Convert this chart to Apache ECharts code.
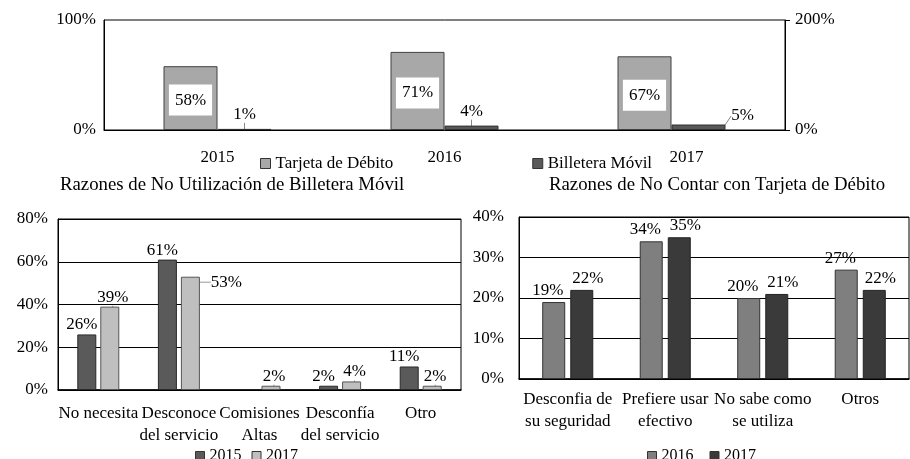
<!DOCTYPE html>
<html lang="es">
<head>
<meta charset="UTF-8">
<title>Billetera Móvil y Tarjeta de Débito</title>
<script src="https://cdn.jsdelivr.net/npm/echarts@6/dist/echarts.min.js"></script>
</head>
<body style="margin:0;background:#fff">
<div id="main" style="width:910px;height:459px"></div>
<script type="text/javascript">
// datos del gráfico superior
var years = ['2015', '2016', '2017'];
var tarjeta = [58, 71, 67];
var billetera = [1, 4, 5];
// razones de no utilización de billetera móvil
var razonesBilletera = ['No necesita', 'Desconoce\ndel servicio', 'Comisiones\nAltas', 'Desconfía\ndel servicio', 'Otro'];
var billetera2015 = [26, 61, null, 2, 11];
var billetera2017 = [39, 53, 2, 4, 2];
// razones de no contar con tarjeta de débito
var razonesTarjeta = ['Desconfia de\nsu seguridad', 'Prefiere usar\nefectivo', 'No sabe como\nse utiliza', 'Otros'];
var tarjeta2016 = [19, 34, 20, 27];
var tarjeta2017 = [22, 35, 21, 22];

var font = 'Liberation Serif';
var txt = { color: '#000', fontFamily: font, fontSize: 17 };
var leg = { color: '#000', fontFamily: font, fontSize: 16 };
var pct = function (p) { return p.value + '%'; };
var tituloStyle = { fontFamily: font, fontWeight: 'normal', fontSize: 18.8, color: '#000' };

// el 2017 de arriba va un poco a la derecha, como en el original
var yearsData = years.map(function (y, i) {
    return i === 2 ? { value: y, textStyle: { padding: [0, 0, 0, 30] } } : y;
});

var myChart = echarts.init(document.getElementById('main'));
var option = {
    animation: false,
    backgroundColor: '#fff',
    textStyle: { fontFamily: font, color: '#000' },
    title: [
        { text: 'Razones de No Utilización de Billetera Móvil', left: 55, top: 171, textStyle: tituloStyle },
        { text: 'Razones de No Contar con Tarjeta de Débito', left: 544, top: 171, textStyle: tituloStyle }
    ],
    legend: [
        { data: ['Tarjeta de Débito', 'Billetera Móvil'], left: 255, top: 150, itemGap: 139, icon: 'rect', itemWidth: 10, itemHeight: 10, itemStyle: { borderColor: '#333', borderWidth: 1 }, textStyle: txt },
        { data: ['a2015', 'a2017'], formatter: function (n) { return n.slice(1); }, left: 190, top: 443, itemGap: 10, icon: 'rect', itemWidth: 9, itemHeight: 9, itemStyle: { borderColor: '#333', borderWidth: 1 }, textStyle: leg },
        { data: ['b2016', 'b2017'], formatter: function (n) { return n.slice(1); }, left: 642, top: 443, itemGap: 16, icon: 'rect', itemWidth: 9, itemHeight: 9, itemStyle: { borderColor: '#333', borderWidth: 1 }, textStyle: leg }
    ],
    grid: [
        { left: 104, width: 681, top: 20, height: 110, show: true, borderColor: '#000', borderWidth: 1 },
        { left: 58, width: 403, top: 219, height: 171, show: true, borderColor: '#000', borderWidth: 1 },
        { left: 519, width: 390, top: 217, height: 162, show: true, borderColor: '#000', borderWidth: 1 }
    ],
    xAxis: [
        { type: 'category', gridIndex: 0, data: yearsData, axisTick: { show: false }, axisLine: { lineStyle: { color: '#000' } }, axisLabel: Object.assign({ margin: 19 }, txt) },
        { type: 'category', gridIndex: 1, data: razonesBilletera, axisTick: { show: false }, axisLine: { lineStyle: { color: '#000', width: 1.5 } }, axisLabel: Object.assign({ margin: 13, lineHeight: 22, interval: 0 }, txt) },
        { type: 'category', gridIndex: 2, data: razonesTarjeta, axisTick: { show: false }, axisLine: { lineStyle: { color: '#000', width: 1.5 } }, axisLabel: Object.assign({ margin: 10, lineHeight: 22, interval: 0 }, txt) }
    ],
    yAxis: [
        { type: 'value', gridIndex: 0, min: 0, max: 100, interval: 100, axisLine: { show: true, lineStyle: { color: '#000' } }, splitLine: { show: false }, axisLabel: Object.assign({ formatter: '{value}%', margin: 8 }, txt) },
        { type: 'value', gridIndex: 0, position: 'right', min: 0, max: 200, interval: 200, axisLine: { show: true, lineStyle: { color: '#000' } }, axisTick: { show: true, length: 5, lineStyle: { color: '#000' } }, splitLine: { show: false }, axisLabel: Object.assign({ formatter: '{value}%', margin: 10 }, txt) },
        { type: 'value', gridIndex: 1, min: 0, max: 80, interval: 20, axisLine: { show: true, lineStyle: { color: '#000' } }, splitLine: { lineStyle: { color: '#000' } }, axisLabel: Object.assign({ formatter: '{value}%', margin: 10 }, txt) },
        { type: 'value', gridIndex: 2, min: 0, max: 40, interval: 10, axisLine: { show: true, lineStyle: { color: '#000' } }, splitLine: { lineStyle: { color: '#000' } }, axisLabel: Object.assign({ formatter: '{value}%', margin: 15 }, txt) }
    ],
    series: [
        {
            name: 'Tarjeta de Débito', type: 'bar', xAxisIndex: 0, yAxisIndex: 0, data: tarjeta,
            barWidth: 54, barGap: '0%',
            itemStyle: { color: '#a8a8a8', borderColor: '#404040', borderWidth: 1 },
            label: Object.assign({ show: true, position: 'inside', formatter: pct, backgroundColor: '#fff', padding: [7, 6] }, txt),
            labelLayout: { dy: 2 }
        },
        {
            name: 'Billetera Móvil', type: 'bar', xAxisIndex: 0, yAxisIndex: 0, data: billetera,
            barWidth: 54, barGap: '0%',
            itemStyle: { color: '#595959', borderColor: '#303030', borderWidth: 1 },
            label: Object.assign({ show: true, position: 'top', distance: 6, formatter: pct }, txt),
            labelLine: { show: true, lineStyle: { color: '#888', width: 1 } },
            labelLayout: function (p) { if (p.dataIndex === 2) return { dx: 44, dy: 6 }; }
        },
        {
            name: 'a2015', type: 'bar', xAxisIndex: 1, yAxisIndex: 2, data: billetera2015,
            barWidth: 19, barGap: '21%',
            itemStyle: { color: '#5a5a5a', borderColor: '#2a2a2a', borderWidth: 1 },
            label: Object.assign({ show: true, position: 'top', distance: 1, formatter: pct }, txt),
            labelLayout: { dx: -5 }
        },
        {
            name: 'a2017', type: 'bar', xAxisIndex: 1, yAxisIndex: 2, data: billetera2017,
            barWidth: 19, barGap: '21%',
            itemStyle: { color: '#bfbfbf', borderColor: '#555', borderWidth: 1 },
            label: Object.assign({ show: true, position: 'top', distance: 1, formatter: pct }, txt),
            labelLine: { show: true, lineStyle: { color: '#999', width: 1 } },
            labelLayout: function (p) { return p.dataIndex === 1 ? { dx: 36, dy: 15 } : { dx: 3 }; }
        },
        {
            name: 'b2016', type: 'bar', xAxisIndex: 2, yAxisIndex: 3, data: tarjeta2016,
            barWidth: 23, barGap: '22%',
            itemStyle: { color: '#7f7f7f', borderColor: '#333', borderWidth: 1 },
            label: Object.assign({ show: true, position: 'top', distance: 3, formatter: pct }, txt),
            labelLayout: { dx: -6 }
        },
        {
            name: 'b2017', type: 'bar', xAxisIndex: 2, yAxisIndex: 3, data: tarjeta2017,
            barWidth: 23, barGap: '22%',
            itemStyle: { color: '#3a3a3a', borderColor: '#222', borderWidth: 1 },
            label: Object.assign({ show: true, position: 'top', distance: 3, formatter: pct }, txt),
            labelLayout: { dx: 6 }
        }
    ]
};
myChart.setOption(option);
</script>
</body>
</html>
